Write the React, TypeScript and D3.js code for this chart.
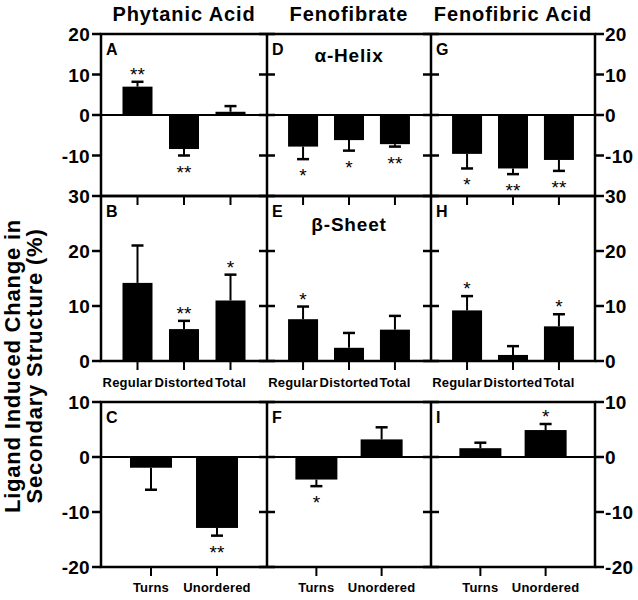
import React from "react";
import * as d3 from "d3";

// ---------- data ----------
const columnTitles = ["Phytanic Acid", "Fenofibrate", "Fenofibric Acid"];
const panelLetters = [
  ["A", "D", "G"],
  ["B", "E", "H"],
  ["C", "F", "I"],
];
const rowSubtitles = ["\u03b1-Helix", "\u03b2-Sheet", ""];

const helixCats = ["Regular", "Distorted", "Total"];
const helixMean = [
  [7.0, -8.4, 0.8],
  [-7.8, -6.2, -7.2],
  [-9.6, -13.2, -11.1],
];
const helixSem = [
  [1.2, 1.6, 1.4],
  [3.1, 2.6, 0.6],
  [3.6, 1.4, 2.7],
];
const helixSig = [
  ["**", "**", ""],
  ["*", "*", "**"],
  ["*", "**", "**"],
];

const sheetCats = ["Regular", "Distorted", "Total"];
const sheetMean = [
  [14.2, 5.8, 11.0],
  [7.6, 2.4, 5.7],
  [9.2, 1.1, 6.3],
];
const sheetSem = [
  [6.8, 1.5, 4.7],
  [2.3, 2.7, 2.5],
  [2.6, 1.6, 2.2],
];
const sheetSig = [
  ["", "**", "*"],
  ["*", "", ""],
  ["*", "", "*"],
];

const otherCats = ["Turns", "Unordered"];
const otherMean = [
  [-1.95, -12.9],
  [-4.1, 3.2],
  [1.6, 4.9],
];
const otherSem = [
  [4.0, 1.4],
  [1.2, 2.2],
  [1.0, 1.1],
];
const otherSig = [
  ["", "**"],
  ["*", ""],
  ["", "*"],
];

const rowDomains: [number, number][] = [
  [-20, 20],
  [0, 30],
  [-20, 10],
];
const rowTicks = [
  [20, 10, 0, -10],
  [30, 20, 10, 0],
  [10, 0, -10, -20],
];
const yTitleLines = ["Ligand Induced Change in", "Secondary Structure (%)"];

// ---------- layout ----------
const W = 638;
const H = 600;
const colEdges = [101, 267, 431, 595];
const rowBox = [
  { top: 34, bottom: 196 },
  { top: 196, bottom: 361 },
  { top: 402, bottom: 567 },
];
const FONT = "'Liberation Sans', Arial, Helvetica, sans-serif";

type RowSpec = {
  cats: string[];
  mean: number[][];
  sem: number[][];
  sig: string[][];
  showLabels: boolean;
  padding: number;
  barW: number;
};

const rows: RowSpec[] = [
  { cats: helixCats, mean: helixMean, sem: helixSem, sig: helixSig, showLabels: false, padding: 0.785, barW: 30 },
  { cats: sheetCats, mean: sheetMean, sem: sheetSem, sig: sheetSig, showLabels: true, padding: 0.785, barW: 30 },
  { cats: otherCats, mean: otherMean, sem: otherSem, sig: otherSig, showLabels: true, padding: 0.757, barW: 42 },
];

export default function App() {
  const elems: React.ReactNode[] = [];

  rows.forEach((row, ri) => {
    const { top, bottom } = rowBox[ri];
    const y = d3.scaleLinear().domain(rowDomains[ri]).range([bottom, top]);

    for (let ci = 0; ci < 3; ci++) {
      const left = colEdges[ci];
      const right = colEdges[ci + 1];
      const x = d3.scalePoint<string>().domain(row.cats).range([left, right]).padding(row.padding);
      const key = `${ri}-${ci}`;

      // zero line
      if (rowDomains[ri][0] < 0) {
        elems.push(
          <line key={`z${key}`} x1={left} x2={right} y1={y(0)} y2={y(0)} stroke="#000" strokeWidth={1.8} />
        );
      }

      // bars
      row.cats.forEach((c, k) => {
        const v = row.mean[ci][k];
        const e = row.sem[ci][k];
        const cx = x(c)!;
        const yv = y(v);
        const yz = y(0);
        elems.push(
          <rect
            key={`b${key}-${k}`}
            x={cx - row.barW / 2}
            width={row.barW}
            y={Math.min(yv, yz)}
            height={Math.abs(yz - yv)}
            fill="#000"
          />
        );
        const ye = y(v >= 0 ? v + e : v - e);
        elems.push(
          <line key={`e${key}-${k}`} x1={cx} x2={cx} y1={yv} y2={ye} stroke="#000" strokeWidth={2} />
        );
        elems.push(
          <line key={`c${key}-${k}`} x1={cx - 6} x2={cx + 6} y1={ye} y2={ye} stroke="#000" strokeWidth={2.5} />
        );
        const s = row.sig[ci][k];
        if (s) {
          elems.push(
            <text
              key={`s${key}-${k}`}
              x={cx}
              y={v >= 0 ? ye - 1 : ye + 23}
              textAnchor="middle"
              fontFamily={FONT}
              fontSize={19}
              fill="#000"
            >
              {s}
            </text>
          );
        }
        // x ticks (pointing down from the bottom of the panel)
        elems.push(
          <line key={`xt${key}-${k}`} x1={cx} x2={cx} y1={bottom} y2={bottom + 9} stroke="#000" strokeWidth={2} />
        );
        if (row.showLabels) {
          const dx = row.cats.length === 3 && k === 0 ? -10 : 0;
          elems.push(
            <text
              key={`xl${key}-${k}`}
              x={cx + dx}
              y={ri === 1 ? bottom + 26 : bottom + 25}
              textAnchor="middle"
              fontFamily={FONT}
              fontWeight="bold"
              fontSize={13}
              letterSpacing={0.2}
              fill="#000"
            >
              {c}
            </text>
          );
        }
      });

      // panel letter
      elems.push(
        <text
          key={`l${key}`}
          x={left + 5}
          y={top + 21}
          fontFamily={FONT}
          fontWeight="bold"
          fontSize={16}
          fill="#000"
        >
          {panelLetters[ri][ci]}
        </text>
      );
    }

    // frame
    elems.push(
      <rect
        key={`f${ri}`}
        x={colEdges[0]}
        y={top}
        width={colEdges[3] - colEdges[0]}
        height={bottom - top}
        fill="none"
        stroke="#000"
        strokeWidth={2.5}
      />
    );
    for (let d = 1; d < 3; d++) {
      elems.push(
        <line key={`d${ri}-${d}`} x1={colEdges[d]} x2={colEdges[d]} y1={top} y2={bottom} stroke="#000" strokeWidth={2.5} />
      );
    }

    // y ticks
    rowTicks[ri].forEach((t) => {
      const yy = y(t);
      elems.push(
        <line key={`yl${ri}-${t}`} x1={colEdges[0] - 9} x2={colEdges[0]} y1={yy} y2={yy} stroke="#000" strokeWidth={2.5} />
      );
      elems.push(
        <line key={`yr${ri}-${t}`} x1={colEdges[3]} x2={colEdges[3] + 9} y1={yy} y2={yy} stroke="#000" strokeWidth={2.5} />
      );
      for (let d = 1; d < 3; d++) {
        elems.push(
          <line key={`yi${ri}-${t}-${d}`} x1={colEdges[d] - 8} x2={colEdges[d] + 8} y1={yy} y2={yy} stroke="#000" strokeWidth={2.5} />
        );
      }
      elems.push(
        <text
          key={`ylt${ri}-${t}`}
          x={colEdges[0] - 11}
          y={yy + 7}
          textAnchor="end"
          fontFamily={FONT}
          fontWeight="bold"
          fontSize={19}
          letterSpacing={0.3}
          fill="#000"
        >
          {t}
        </text>
      );
      elems.push(
        <text
          key={`yrt${ri}-${t}`}
          x={colEdges[3] + 10}
          y={yy + 7}
          textAnchor="start"
          fontFamily={FONT}
          fontWeight="bold"
          fontSize={19}
          letterSpacing={0.3}
          fill="#000"
        >
          {t}
        </text>
      );
    });

    // row subtitle
    if (rowSubtitles[ri]) {
      elems.push(
        <text
          key={`st${ri}`}
          x={(colEdges[1] + colEdges[2]) / 2}
          y={ri === 0 ? 62 : 231}
          textAnchor="middle"
          fontFamily={FONT}
          fontWeight="bold"
          fontSize={19}
          letterSpacing={0.8}
          fill="#000"
        >
          {rowSubtitles[ri]}
        </text>
      );
    }
  });

  // column titles
  columnTitles.forEach((t, ci) => {
    elems.push(
      <text
        key={`ct${ci}`}
        x={(colEdges[ci] + colEdges[ci + 1]) / 2}
        y={21}
        textAnchor="middle"
        fontFamily={FONT}
        fontWeight="bold"
        fontSize={20}
        letterSpacing={0.9}
        fill="#000"
      >
        {t}
      </text>
    );
  });

  // y axis title
  yTitleLines.forEach((t, i) => {
    const xx = i === 0 ? 20 : 42;
    elems.push(
      <text
        key={`yt${i}`}
        transform={`translate(${xx},366) rotate(-90)`}
        textAnchor="middle"
        fontFamily={FONT}
        fontWeight="bold"
        fontSize={22}
        letterSpacing={0.8}
        fill="#000"
      >
        {t}
      </text>
    );
  });

  return (
    <svg
      width={W}
      height={H}
      viewBox={`0 0 ${W} ${H}`}
      style={{ position: "absolute", left: 0, top: 0, background: "#fff" }}
    >
      <rect x={0} y={0} width={W} height={H} fill="#fff" />
      {elems}
    </svg>
  );
}
